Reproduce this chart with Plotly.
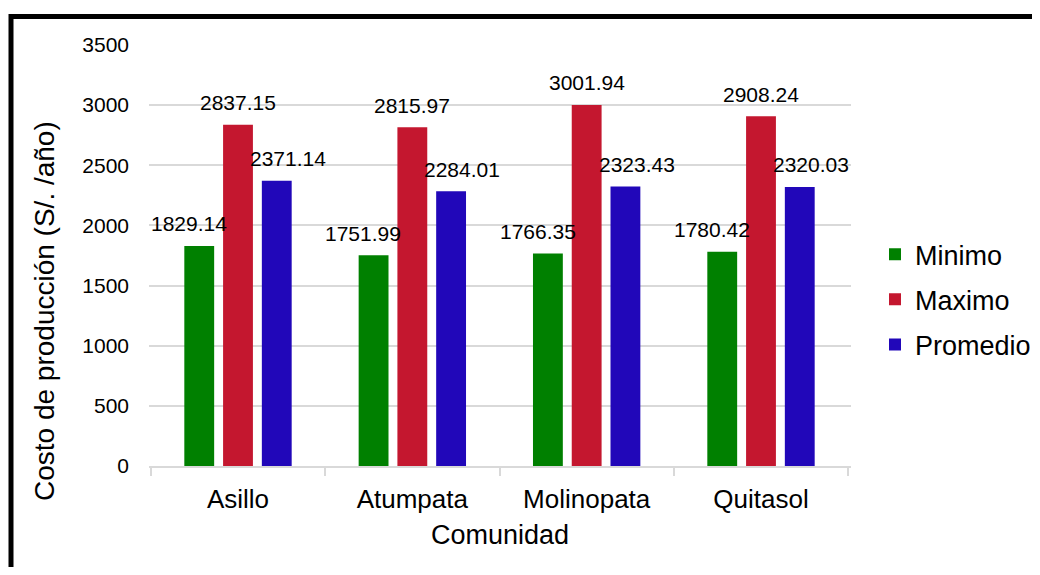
import plotly.graph_objects as go

comunidades = ["Asillo", "Atumpata", "Molinopata", "Quitasol"]
minimo = [1829.14, 1751.99, 1766.35, 1780.42]
maximo = [2837.15, 2815.97, 3001.94, 2908.24]
promedio = [2371.14, 2284.01, 2323.43, 2320.03]

series = [
    ("Minimo", minimo, "#008000", -49),
    ("Maximo", maximo, "#C4172F", 0),
    ("Promedio", promedio, "#2107B9", 50),
]

FONT = "Liberation Sans, Arial, sans-serif"

# la pagina tiene 8px de margen en el body, se descuenta aqui
OFF = 8
W, H = 1040 - OFF, 575 - 2 * OFF
x_l, x_r = 149 - OFF, 851 - OFF
y_t, y_b = 45 - OFF, 466 - OFF

def px_x(p):
    return (p - OFF - x_l) / (x_r - x_l)

def px_y(p):
    return (y_b - (p - OFF)) / (y_b - y_t)

fig = go.Figure()
annotations = []
for name, vals, color, dx in series:
    fig.add_trace(go.Bar(
        x=comunidades, y=vals, name=name, legendgroup=name,
        marker_color=color, marker_line_width=0,
    ))
    for cat, v in zip(comunidades, vals):
        annotations.append(dict(
            x=cat, y=v, xref="x", yref="y", text=f"{v:.2f}", showarrow=False,
            xshift=dx, yshift=22, yanchor="middle",
            font=dict(family=FONT, size=21, color="black"),
        ))

# titulo del eje y (desplazado hacia abajo como en el original)
annotations.append(dict(
    x=px_x(44), y=px_y(311), xref="paper", yref="paper",
    text="Costo de producción (S/. /año)", textangle=-90, showarrow=False,
    xanchor="center", yanchor="middle",
    font=dict(family=FONT, size=28, color="black"),
))

# marco negro (cortado a la derecha y abajo)
fig.add_shape(type="rect", xref="paper", yref="paper",
              x0=px_x(11), x1=px_x(1100), y0=px_y(640), y1=px_y(16.5),
              line=dict(color="black", width=5), fillcolor="rgba(0,0,0,0)")

fig.update_layout(
    width=W, height=H,
    margin=dict(l=x_l, r=W - x_r, t=y_t, b=H - y_b),
    plot_bgcolor="white", paper_bgcolor="white",
    font=dict(family=FONT, color="black"),
    barmode="group", bargap=0.333, bargroupgap=0.23,
    annotations=annotations,
    legend=dict(
        xref="container", x=(875 - OFF) / W, y=0.395,
        xanchor="left", yanchor="middle",
        font=dict(size=27, family=FONT), tracegroupgap=7,
        bgcolor="rgba(0,0,0,0)",
    ),
    showlegend=True,
)
fig.update_xaxes(
    title=dict(text="Comunidad", font=dict(size=27), standoff=12),
    tickfont=dict(size=26), ticklabelstandoff=9,
    showline=True, linecolor="#d9d9d9", linewidth=2,
    ticks="outside", tickson="boundaries", ticklen=8, tickcolor="#d9d9d9", tickwidth=2,
    showgrid=False,
)
fig.update_yaxes(
    range=[0, 3500], dtick=500, tickfont=dict(size=21),
    showgrid=True, gridcolor="#d9d9d9", gridwidth=2,
    zeroline=False, showline=False, ticks="", ticklabelstandoff=19,
)

fig.write_html("out.html")
